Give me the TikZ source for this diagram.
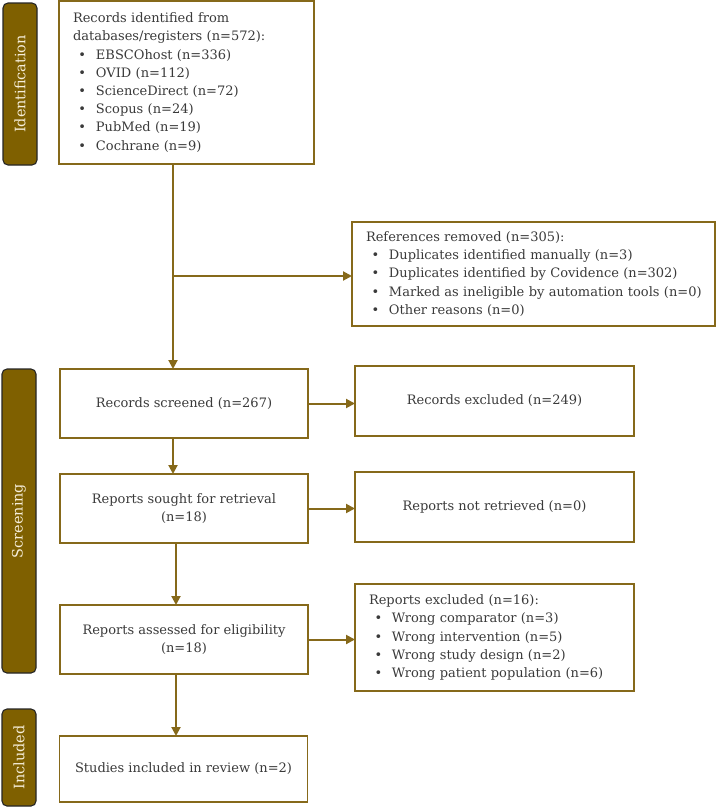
\documentclass[tikz,border=0pt]{standalone}
\usepackage{fontspec}
\setmainfont{DejaVu Serif}
\usetikzlibrary{arrows.meta,calc}
\definecolor{prismagold}{HTML}{7F6000}
\definecolor{boxline}{HTML}{86691A}
\definecolor{textgray}{HTML}{3A3A3A}
\definecolor{cream}{HTML}{F6EEDA}
\newcommand\bul{\hspace*{5.5pt}\makebox[17.5pt][l]{•}}
\tikzset{
  box/.style={draw=boxline, line width=1.9pt, fill=white, inner sep=0pt, outer sep=0pt,
    text=textgray, font=\fontsize{13}{18.2}\selectfont},
  listbox/.style={box, align=left, inner xsep=14pt, text width=#1},
  cbox/.style={box, align=center, minimum width=248pt, minimum height=69pt},
  rbox/.style={box, align=center, minimum width=279pt, minimum height=70pt},
  stagebar/.style={draw=black!85, line width=1.1pt, fill=prismagold, rounded corners=5pt,
    text=cream, rotate=90, inner sep=0pt, minimum height=34pt, font=\fontsize{14.4}{16}\selectfont},
  arr/.style={draw=boxline, line width=2pt, -{Triangle[length=9pt,width=9pt]}},
}
\begin{document}
\begin{tikzpicture}[x=1pt,y=-1pt]
\useasboundingbox (0,0) rectangle (716,807);
\fill[white] (0,0) rectangle (716,807);
% stage bars
\node[stagebar, minimum width=162pt] (idbar) at (20,84) {Identification};
\node[stagebar, minimum width=304pt] (scrbar) at (19,521) {Screening};
\node[stagebar, minimum width=97pt] (incbar) at (19,757.5) {Included};
% boxes
\node[listbox=227pt, minimum height=163pt] (rec) at (186.5,82.5)
  {Records identified from\\databases/registers (n=572):\\
   \bul EBSCOhost (n=336)\\\bul OVID (n=112)\\\bul ScienceDirect (n=72)\\
   \bul Scopus (n=24)\\\bul PubMed (n=19)\\\bul Cochrane (n=9)};
\node[listbox=335pt, minimum height=104pt] (rem) at (533.5,274)
  {References removed (n=305):\\
   \bul \mbox{Duplicates identified manually (n=3)}\\
   \bul \mbox{Duplicates identified by Covidence (n=302)}\\
   \bul \mbox{Marked as ineligible by automation tools (n=0)}\\
   \bul \mbox{Other reasons (n=0)}};
\node[cbox] (scr) at (184,403.5) {Records screened (n=267)};
\node[rbox] (exc) at (494.5,401) {Records excluded (n=249)};
\node[cbox] (sought) at (184,508.5) {Reports sought for retrieval\\(n=18)};
\node[rbox] (nr) at (494.5,507) {Reports not retrieved (n=0)};
\node[cbox] (elig) at (184,639.5) {Reports assessed for eligibility\\(n=18)};
\node[listbox=251pt, minimum height=107pt] (rex) at (494.5,637.5)
  {Reports excluded (n=16):\\
   \bul Wrong comparator (n=3)\\
   \bul Wrong intervention (n=5)\\
   \bul Wrong study design (n=2)\\
   \bul Wrong patient population (n=6)};
\node[cbox, minimum height=66pt] (stud) at (183.5,769) {Studies included in review (n=2)};
% connectors
\coordinate (sp1) at (173,0);
\coordinate (sp2) at (176,0);
\coordinate (br) at (173,276);
\draw[arr] (rec.south -| sp1) -- (scr.north -| sp1);
\draw[arr] (br) -- (br -| rem.west);
\draw[arr] (scr.south -| sp1) -- (sought.north -| sp1);
\draw[arr] (sought.south -| sp2) -- (elig.north -| sp2);
\draw[arr] (elig.south -| sp2) -- (stud.north -| sp2);
\draw[arr] (scr.east) -- (scr.east -| exc.west);
\draw[arr] (sought.east) -- (sought.east -| nr.west);
\draw[arr] (elig.east) -- (elig.east -| rex.west);
\end{tikzpicture}
\end{document}
